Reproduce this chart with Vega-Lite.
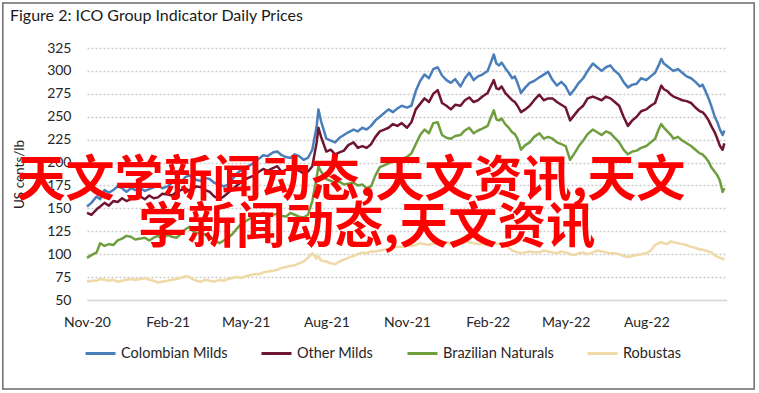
{
  "$schema": "https://vega.github.io/schema/vega-lite/v6.json",
  "width": 640,
  "height": 252,
  "autosize": {"type": "none"},
  "padding": {"left": 87, "top": 48, "right": 32, "bottom": 93},
  "background": "white",
  "config": {
    "font": "Lato",
    "view": {"stroke": null},
    "axis": {"labelFont": "Lato", "titleFont": "Lato", "labelColor": "#262626", "titleColor": "#262626"},
    "axisX": {"grid": false, "ticks": false, "domainColor": "#d9d9d9", "domainWidth": 1.5, "labelFontSize": 14, "labelPadding": 15, "labelFlush": false, "labelOverlap": false, "format": "%b-%y"},
    "axisY": {"grid": true, "gridDash": [2, 2], "gridColor": "#cccccc", "gridWidth": 1.5, "domain": false, "ticks": false, "labelFontSize": 14, "labelPadding": 16, "labelOverlap": false, "titleFontWeight": "normal", "titleFontSize": 13.5, "titlePadding": 20},
    "legend": {"labelFont": "Lato"}
  },
  "title": {
    "text": "Figure 2: ICO Group Indicator Daily Prices",
    "anchor": "start",
    "frame": "group",
    "dx": -77,
    "offset": 0,
    "dy": 22,
    "fontSize": 16,
    "fontWeight": "normal",
    "font": "Lato",
    "color": "#1a1a1a"
  },
  "datasets": {
    "prices": [
      {"date": "2020-11-01", "Colombian Milds": 152, "Other Milds": 145, "Brazilian Naturals": 96, "Robustas": 70},
      {"date": "2020-11-06", "Colombian Milds": 156, "Other Milds": 143, "Brazilian Naturals": 99, "Robustas": 71},
      {"date": "2020-11-12", "Colombian Milds": 163, "Other Milds": 149, "Brazilian Naturals": 102, "Robustas": 71},
      {"date": "2020-11-16", "Colombian Milds": 160, "Other Milds": 152, "Brazilian Naturals": 112, "Robustas": 73},
      {"date": "2020-11-21", "Colombian Milds": 170, "Other Milds": 156, "Brazilian Naturals": 109, "Robustas": 72},
      {"date": "2020-11-26", "Colombian Milds": 167, "Other Milds": 153, "Brazilian Naturals": 111, "Robustas": 71},
      {"date": "2020-12-01", "Colombian Milds": 170, "Other Milds": 158, "Brazilian Naturals": 110, "Robustas": 72},
      {"date": "2020-12-06", "Colombian Milds": 174, "Other Milds": 157, "Brazilian Naturals": 115, "Robustas": 70},
      {"date": "2020-12-11", "Colombian Milds": 172, "Other Milds": 161, "Brazilian Naturals": 117, "Robustas": 71},
      {"date": "2020-12-16", "Colombian Milds": 168, "Other Milds": 158, "Brazilian Naturals": 120, "Robustas": 72},
      {"date": "2020-12-21", "Colombian Milds": 172, "Other Milds": 160, "Brazilian Naturals": 119, "Robustas": 73},
      {"date": "2020-12-26", "Colombian Milds": 170, "Other Milds": 162, "Brazilian Naturals": 116, "Robustas": 72},
      {"date": "2021-01-01", "Colombian Milds": 172, "Other Milds": 163, "Brazilian Naturals": 117, "Robustas": 73},
      {"date": "2021-01-06", "Colombian Milds": 169, "Other Milds": 160, "Brazilian Naturals": 118, "Robustas": 74},
      {"date": "2021-01-11", "Colombian Milds": 171, "Other Milds": 164, "Brazilian Naturals": 115, "Robustas": 72},
      {"date": "2021-01-16", "Colombian Milds": 173, "Other Milds": 161, "Brazilian Naturals": 118, "Robustas": 71},
      {"date": "2021-01-21", "Colombian Milds": 175, "Other Milds": 162, "Brazilian Naturals": 120, "Robustas": 69},
      {"date": "2021-01-26", "Colombian Milds": 172, "Other Milds": 166, "Brazilian Naturals": 117, "Robustas": 70},
      {"date": "2021-02-01", "Colombian Milds": 174, "Other Milds": 165, "Brazilian Naturals": 121, "Robustas": 71},
      {"date": "2021-02-06", "Colombian Milds": 178, "Other Milds": 164, "Brazilian Naturals": 119, "Robustas": 72},
      {"date": "2021-02-11", "Colombian Milds": 180, "Other Milds": 168, "Brazilian Naturals": 118, "Robustas": 73},
      {"date": "2021-02-16", "Colombian Milds": 178, "Other Milds": 170, "Brazilian Naturals": 122, "Robustas": 74},
      {"date": "2021-02-21", "Colombian Milds": 184, "Other Milds": 172, "Brazilian Naturals": 127, "Robustas": 76},
      {"date": "2021-02-26", "Colombian Milds": 186, "Other Milds": 169, "Brazilian Naturals": 130, "Robustas": 75},
      {"date": "2021-03-01", "Colombian Milds": 183, "Other Milds": 171, "Brazilian Naturals": 126, "Robustas": 73},
      {"date": "2021-03-06", "Colombian Milds": 181, "Other Milds": 174, "Brazilian Naturals": 123, "Robustas": 71},
      {"date": "2021-03-11", "Colombian Milds": 180, "Other Milds": 173, "Brazilian Naturals": 124, "Robustas": 70},
      {"date": "2021-03-16", "Colombian Milds": 183, "Other Milds": 170, "Brazilian Naturals": 121, "Robustas": 72},
      {"date": "2021-03-21", "Colombian Milds": 182, "Other Milds": 168, "Brazilian Naturals": 120, "Robustas": 71},
      {"date": "2021-03-26", "Colombian Milds": 178, "Other Milds": 163, "Brazilian Naturals": 115, "Robustas": 70},
      {"date": "2021-04-01", "Colombian Milds": 176, "Other Milds": 160, "Brazilian Naturals": 112, "Robustas": 72},
      {"date": "2021-04-06", "Colombian Milds": 174, "Other Milds": 163, "Brazilian Naturals": 115, "Robustas": 71},
      {"date": "2021-04-11", "Colombian Milds": 176, "Other Milds": 167, "Brazilian Naturals": 118, "Robustas": 73},
      {"date": "2021-04-16", "Colombian Milds": 182, "Other Milds": 171, "Brazilian Naturals": 122, "Robustas": 74},
      {"date": "2021-04-21", "Colombian Milds": 188, "Other Milds": 175, "Brazilian Naturals": 128, "Robustas": 75},
      {"date": "2021-04-26", "Colombian Milds": 192, "Other Milds": 179, "Brazilian Naturals": 133, "Robustas": 74},
      {"date": "2021-05-01", "Colombian Milds": 195, "Other Milds": 182, "Brazilian Naturals": 136, "Robustas": 76},
      {"date": "2021-05-06", "Colombian Milds": 197, "Other Milds": 184, "Brazilian Naturals": 139, "Robustas": 77},
      {"date": "2021-05-11", "Colombian Milds": 200, "Other Milds": 186, "Brazilian Naturals": 141, "Robustas": 78},
      {"date": "2021-05-16", "Colombian Milds": 204, "Other Milds": 190, "Brazilian Naturals": 143, "Robustas": 78},
      {"date": "2021-05-21", "Colombian Milds": 208, "Other Milds": 193, "Brazilian Naturals": 145, "Robustas": 80},
      {"date": "2021-05-26", "Colombian Milds": 207, "Other Milds": 191, "Brazilian Naturals": 144, "Robustas": 81},
      {"date": "2021-06-01", "Colombian Milds": 211, "Other Milds": 194, "Brazilian Naturals": 143, "Robustas": 82},
      {"date": "2021-06-06", "Colombian Milds": 212, "Other Milds": 196, "Brazilian Naturals": 144, "Robustas": 83},
      {"date": "2021-06-11", "Colombian Milds": 208, "Other Milds": 190, "Brazilian Naturals": 142, "Robustas": 85},
      {"date": "2021-06-16", "Colombian Milds": 206, "Other Milds": 192, "Brazilian Naturals": 141, "Robustas": 86},
      {"date": "2021-06-21", "Colombian Milds": 205, "Other Milds": 195, "Brazilian Naturals": 145, "Robustas": 87},
      {"date": "2021-06-26", "Colombian Milds": 209, "Other Milds": 193, "Brazilian Naturals": 143, "Robustas": 88},
      {"date": "2021-07-01", "Colombian Milds": 207, "Other Milds": 191, "Brazilian Naturals": 141, "Robustas": 90},
      {"date": "2021-07-06", "Colombian Milds": 203, "Other Milds": 188, "Brazilian Naturals": 140, "Robustas": 92},
      {"date": "2021-07-11", "Colombian Milds": 205, "Other Milds": 190, "Brazilian Naturals": 143, "Robustas": 96},
      {"date": "2021-07-16", "Colombian Milds": 214, "Other Milds": 196, "Brazilian Naturals": 158, "Robustas": 101},
      {"date": "2021-07-21", "Colombian Milds": 240, "Other Milds": 222, "Brazilian Naturals": 184, "Robustas": 95},
      {"date": "2021-07-23", "Colombian Milds": 258, "Other Milds": 238, "Brazilian Naturals": 196, "Robustas": 98},
      {"date": "2021-07-26", "Colombian Milds": 245, "Other Milds": 228, "Brazilian Naturals": 190, "Robustas": 93},
      {"date": "2021-08-01", "Colombian Milds": 226, "Other Milds": 212, "Brazilian Naturals": 182, "Robustas": 92},
      {"date": "2021-08-06", "Colombian Milds": 224, "Other Milds": 214, "Brazilian Naturals": 180, "Robustas": 90},
      {"date": "2021-08-11", "Colombian Milds": 222, "Other Milds": 209, "Brazilian Naturals": 178, "Robustas": 89},
      {"date": "2021-08-16", "Colombian Milds": 227, "Other Milds": 211, "Brazilian Naturals": 179, "Robustas": 92},
      {"date": "2021-08-21", "Colombian Milds": 230, "Other Milds": 213, "Brazilian Naturals": 176, "Robustas": 94},
      {"date": "2021-08-26", "Colombian Milds": 233, "Other Milds": 219, "Brazilian Naturals": 177, "Robustas": 96},
      {"date": "2021-09-01", "Colombian Milds": 236, "Other Milds": 222, "Brazilian Naturals": 178, "Robustas": 98},
      {"date": "2021-09-06", "Colombian Milds": 234, "Other Milds": 216, "Brazilian Naturals": 175, "Robustas": 100},
      {"date": "2021-09-11", "Colombian Milds": 238, "Other Milds": 218, "Brazilian Naturals": 176, "Robustas": 102},
      {"date": "2021-09-16", "Colombian Milds": 236, "Other Milds": 216, "Brazilian Naturals": 172, "Robustas": 101},
      {"date": "2021-09-21", "Colombian Milds": 240, "Other Milds": 220, "Brazilian Naturals": 174, "Robustas": 103},
      {"date": "2021-09-26", "Colombian Milds": 246, "Other Milds": 228, "Brazilian Naturals": 186, "Robustas": 103},
      {"date": "2021-10-01", "Colombian Milds": 250, "Other Milds": 234, "Brazilian Naturals": 195, "Robustas": 104},
      {"date": "2021-10-06", "Colombian Milds": 254, "Other Milds": 236, "Brazilian Naturals": 197, "Robustas": 105},
      {"date": "2021-10-11", "Colombian Milds": 258, "Other Milds": 238, "Brazilian Naturals": 199, "Robustas": 106},
      {"date": "2021-10-16", "Colombian Milds": 255, "Other Milds": 242, "Brazilian Naturals": 201, "Robustas": 107},
      {"date": "2021-10-21", "Colombian Milds": 259, "Other Milds": 240, "Brazilian Naturals": 202, "Robustas": 108},
      {"date": "2021-10-26", "Colombian Milds": 262, "Other Milds": 243, "Brazilian Naturals": 204, "Robustas": 108},
      {"date": "2021-11-01", "Colombian Milds": 260, "Other Milds": 238, "Brazilian Naturals": 206, "Robustas": 110},
      {"date": "2021-11-06", "Colombian Milds": 262, "Other Milds": 244, "Brazilian Naturals": 210, "Robustas": 109},
      {"date": "2021-11-11", "Colombian Milds": 278, "Other Milds": 258, "Brazilian Naturals": 220, "Robustas": 110},
      {"date": "2021-11-16", "Colombian Milds": 289, "Other Milds": 264, "Brazilian Naturals": 230, "Robustas": 112},
      {"date": "2021-11-21", "Colombian Milds": 296, "Other Milds": 270, "Brazilian Naturals": 236, "Robustas": 111},
      {"date": "2021-11-26", "Colombian Milds": 292, "Other Milds": 266, "Brazilian Naturals": 232, "Robustas": 110},
      {"date": "2021-12-01", "Colombian Milds": 302, "Other Milds": 275, "Brazilian Naturals": 243, "Robustas": 112},
      {"date": "2021-12-06", "Colombian Milds": 304, "Other Milds": 279, "Brazilian Naturals": 244, "Robustas": 111},
      {"date": "2021-12-11", "Colombian Milds": 295, "Other Milds": 265, "Brazilian Naturals": 230, "Robustas": 112},
      {"date": "2021-12-16", "Colombian Milds": 290, "Other Milds": 262, "Brazilian Naturals": 227, "Robustas": 113},
      {"date": "2021-12-21", "Colombian Milds": 287, "Other Milds": 258, "Brazilian Naturals": 226, "Robustas": 111},
      {"date": "2021-12-26", "Colombian Milds": 291, "Other Milds": 263, "Brazilian Naturals": 229, "Robustas": 112},
      {"date": "2022-01-01", "Colombian Milds": 283, "Other Milds": 262, "Brazilian Naturals": 230, "Robustas": 112},
      {"date": "2022-01-06", "Colombian Milds": 292, "Other Milds": 268, "Brazilian Naturals": 235, "Robustas": 114},
      {"date": "2022-01-11", "Colombian Milds": 298, "Other Milds": 271, "Brazilian Naturals": 238, "Robustas": 113},
      {"date": "2022-01-16", "Colombian Milds": 290, "Other Milds": 266, "Brazilian Naturals": 232, "Robustas": 112},
      {"date": "2022-01-21", "Colombian Milds": 294, "Other Milds": 268, "Brazilian Naturals": 235, "Robustas": 111},
      {"date": "2022-01-26", "Colombian Milds": 296, "Other Milds": 272, "Brazilian Naturals": 237, "Robustas": 111},
      {"date": "2022-02-01", "Colombian Milds": 300, "Other Milds": 276, "Brazilian Naturals": 240, "Robustas": 110},
      {"date": "2022-02-05", "Colombian Milds": 310, "Other Milds": 284, "Brazilian Naturals": 250, "Robustas": 112},
      {"date": "2022-02-08", "Colombian Milds": 318, "Other Milds": 290, "Brazilian Naturals": 257, "Robustas": 112},
      {"date": "2022-02-11", "Colombian Milds": 308, "Other Milds": 281, "Brazilian Naturals": 247, "Robustas": 111},
      {"date": "2022-02-14", "Colombian Milds": 306, "Other Milds": 280, "Brazilian Naturals": 246, "Robustas": 111},
      {"date": "2022-02-17", "Colombian Milds": 309, "Other Milds": 283, "Brazilian Naturals": 248, "Robustas": 112},
      {"date": "2022-02-21", "Colombian Milds": 303, "Other Milds": 276, "Brazilian Naturals": 242, "Robustas": 110},
      {"date": "2022-02-25", "Colombian Milds": 298, "Other Milds": 272, "Brazilian Naturals": 238, "Robustas": 107},
      {"date": "2022-03-01", "Colombian Milds": 292, "Other Milds": 268, "Brazilian Naturals": 233, "Robustas": 104},
      {"date": "2022-03-04", "Colombian Milds": 294, "Other Milds": 266, "Brazilian Naturals": 231, "Robustas": 103},
      {"date": "2022-03-07", "Colombian Milds": 287, "Other Milds": 262, "Brazilian Naturals": 226, "Robustas": 102},
      {"date": "2022-03-11", "Colombian Milds": 276, "Other Milds": 255, "Brazilian Naturals": 214, "Robustas": 101},
      {"date": "2022-03-16", "Colombian Milds": 282, "Other Milds": 258, "Brazilian Naturals": 219, "Robustas": 102},
      {"date": "2022-03-21", "Colombian Milds": 287, "Other Milds": 262, "Brazilian Naturals": 222, "Robustas": 103},
      {"date": "2022-03-26", "Colombian Milds": 289, "Other Milds": 268, "Brazilian Naturals": 228, "Robustas": 102},
      {"date": "2022-04-01", "Colombian Milds": 293, "Other Milds": 274, "Brazilian Naturals": 232, "Robustas": 102},
      {"date": "2022-04-06", "Colombian Milds": 296, "Other Milds": 268, "Brazilian Naturals": 226, "Robustas": 104},
      {"date": "2022-04-11", "Colombian Milds": 299, "Other Milds": 270, "Brazilian Naturals": 228, "Robustas": 103},
      {"date": "2022-04-16", "Colombian Milds": 290, "Other Milds": 270, "Brazilian Naturals": 226, "Robustas": 102},
      {"date": "2022-04-21", "Colombian Milds": 284, "Other Milds": 266, "Brazilian Naturals": 222, "Robustas": 101},
      {"date": "2022-04-26", "Colombian Milds": 288, "Other Milds": 263, "Brazilian Naturals": 220, "Robustas": 103},
      {"date": "2022-05-01", "Colombian Milds": 283, "Other Milds": 260, "Brazilian Naturals": 218, "Robustas": 102},
      {"date": "2022-05-06", "Colombian Milds": 274, "Other Milds": 246, "Brazilian Naturals": 203, "Robustas": 100},
      {"date": "2022-05-11", "Colombian Milds": 280, "Other Milds": 252, "Brazilian Naturals": 210, "Robustas": 99},
      {"date": "2022-05-16", "Colombian Milds": 287, "Other Milds": 258, "Brazilian Naturals": 218, "Robustas": 101},
      {"date": "2022-05-21", "Colombian Milds": 292, "Other Milds": 262, "Brazilian Naturals": 224, "Robustas": 102},
      {"date": "2022-05-26", "Colombian Milds": 300, "Other Milds": 270, "Brazilian Naturals": 231, "Robustas": 100},
      {"date": "2022-06-01", "Colombian Milds": 308, "Other Milds": 272, "Brazilian Naturals": 236, "Robustas": 102},
      {"date": "2022-06-06", "Colombian Milds": 304, "Other Milds": 270, "Brazilian Naturals": 233, "Robustas": 104},
      {"date": "2022-06-11", "Colombian Milds": 300, "Other Milds": 268, "Brazilian Naturals": 230, "Robustas": 103},
      {"date": "2022-06-16", "Colombian Milds": 304, "Other Milds": 272, "Brazilian Naturals": 234, "Robustas": 102},
      {"date": "2022-06-21", "Colombian Milds": 306, "Other Milds": 270, "Brazilian Naturals": 232, "Robustas": 101},
      {"date": "2022-06-26", "Colombian Milds": 300, "Other Milds": 266, "Brazilian Naturals": 227, "Robustas": 101},
      {"date": "2022-07-01", "Colombian Milds": 296, "Other Milds": 262, "Brazilian Naturals": 222, "Robustas": 100},
      {"date": "2022-07-06", "Colombian Milds": 288, "Other Milds": 250, "Brazilian Naturals": 214, "Robustas": 98},
      {"date": "2022-07-11", "Colombian Milds": 282, "Other Milds": 240, "Brazilian Naturals": 209, "Robustas": 97},
      {"date": "2022-07-16", "Colombian Milds": 285, "Other Milds": 246, "Brazilian Naturals": 212, "Robustas": 98},
      {"date": "2022-07-21", "Colombian Milds": 286, "Other Milds": 250, "Brazilian Naturals": 213, "Robustas": 99},
      {"date": "2022-07-26", "Colombian Milds": 292, "Other Milds": 256, "Brazilian Naturals": 216, "Robustas": 100},
      {"date": "2022-08-01", "Colombian Milds": 290, "Other Milds": 258, "Brazilian Naturals": 218, "Robustas": 101},
      {"date": "2022-08-06", "Colombian Milds": 294, "Other Milds": 262, "Brazilian Naturals": 222, "Robustas": 104},
      {"date": "2022-08-11", "Colombian Milds": 298, "Other Milds": 265, "Brazilian Naturals": 226, "Robustas": 110},
      {"date": "2022-08-15", "Colombian Milds": 306, "Other Milds": 276, "Brazilian Naturals": 236, "Robustas": 112},
      {"date": "2022-08-18", "Colombian Milds": 313, "Other Milds": 284, "Brazilian Naturals": 242, "Robustas": 113},
      {"date": "2022-08-21", "Colombian Milds": 308, "Other Milds": 280, "Brazilian Naturals": 238, "Robustas": 112},
      {"date": "2022-08-25", "Colombian Milds": 305, "Other Milds": 278, "Brazilian Naturals": 234, "Robustas": 111},
      {"date": "2022-08-29", "Colombian Milds": 302, "Other Milds": 274, "Brazilian Naturals": 230, "Robustas": 114},
      {"date": "2022-09-01", "Colombian Milds": 300, "Other Milds": 272, "Brazilian Naturals": 226, "Robustas": 113},
      {"date": "2022-09-06", "Colombian Milds": 302, "Other Milds": 270, "Brazilian Naturals": 228, "Robustas": 112},
      {"date": "2022-09-11", "Colombian Milds": 298, "Other Milds": 268, "Brazilian Naturals": 224, "Robustas": 111},
      {"date": "2022-09-16", "Colombian Milds": 294, "Other Milds": 267, "Brazilian Naturals": 221, "Robustas": 110},
      {"date": "2022-09-21", "Colombian Milds": 292, "Other Milds": 265, "Brazilian Naturals": 218, "Robustas": 108},
      {"date": "2022-09-26", "Colombian Milds": 288, "Other Milds": 260, "Brazilian Naturals": 214, "Robustas": 107},
      {"date": "2022-10-01", "Colombian Milds": 283, "Other Milds": 256, "Brazilian Naturals": 210, "Robustas": 105},
      {"date": "2022-10-04", "Colombian Milds": 285, "Other Milds": 255, "Brazilian Naturals": 209, "Robustas": 105},
      {"date": "2022-10-07", "Colombian Milds": 279, "Other Milds": 252, "Brazilian Naturals": 206, "Robustas": 104},
      {"date": "2022-10-11", "Colombian Milds": 270, "Other Milds": 246, "Brazilian Naturals": 201, "Robustas": 103},
      {"date": "2022-10-14", "Colombian Milds": 262, "Other Milds": 240, "Brazilian Naturals": 195, "Robustas": 102},
      {"date": "2022-10-18", "Colombian Milds": 250, "Other Milds": 233, "Brazilian Naturals": 190, "Robustas": 99},
      {"date": "2022-10-21", "Colombian Milds": 244, "Other Milds": 226, "Brazilian Naturals": 186, "Robustas": 97},
      {"date": "2022-10-24", "Colombian Milds": 236, "Other Milds": 218, "Brazilian Naturals": 180, "Robustas": 96},
      {"date": "2022-10-27", "Colombian Milds": 230, "Other Milds": 214, "Brazilian Naturals": 168, "Robustas": 95},
      {"date": "2022-10-29", "Colombian Milds": 235, "Other Milds": 221, "Brazilian Naturals": 172, "Robustas": 94}
    ]
  },
  "layer": [
    {
      "data": {"name": "prices"},
      "transform": [
        {"fold": ["Colombian Milds", "Other Milds", "Brazilian Naturals", "Robustas"], "as": ["series", "price"]}
      ],
      "mark": {"type": "line", "strokeWidth": 2.5, "strokeJoin": "round"},
      "encoding": {
        "x": {
          "field": "date",
          "type": "temporal",
          "scale": {"type": "utc", "domain": [{"year": 2020, "month": 11, "date": 1, "utc": true}, {"year": 2022, "month": 11, "date": 1, "utc": true}], "nice": false},
          "axis": {"title": null, "values": [{"year": 2020, "month": 11, "date": 1, "utc": true}, {"year": 2021, "month": 2, "date": 1, "utc": true}, {"year": 2021, "month": 5, "date": 1, "utc": true}, {"year": 2021, "month": 8, "date": 1, "utc": true}, {"year": 2021, "month": 11, "date": 1, "utc": true}, {"year": 2022, "month": 2, "date": 1, "utc": true}, {"year": 2022, "month": 5, "date": 1, "utc": true}, {"year": 2022, "month": 8, "date": 1, "utc": true}]}
        },
        "y": {
          "field": "price",
          "type": "quantitative",
          "scale": {"domain": [50, 325], "nice": false, "zero": false},
          "axis": {"title": "US cents/lb", "values": [50, 75, 100, 125, 150, 175, 200, 225, 250, 275, 300, 325]}
        },
        "color": {
          "field": "series",
          "type": "nominal",
          "scale": {
            "domain": ["Colombian Milds", "Other Milds", "Brazilian Naturals", "Robustas"],
            "range": ["#4a7ebb", "#6e1530", "#6e9e3e", "#efd9a6"]
          },
          "legend": {
            "title": null,
            "orient": "none",
            "legendX": -3,
            "legendY": 289,
            "direction": "horizontal",
            "symbolType": "stroke",
            "symbolStrokeWidth": 3,
            "symbolSize": 900,
            "labelFontSize": 14.5,
            "labelColor": "#262626",
            "labelOffset": 4,
            "columnPadding": 27
          }
        }
      }
    },
    {
      "data": {"values": [{}]},
      "mark": {"type": "text", "font": "Noto Sans CJK SC", "fontWeight": "bold", "fontSize": 49, "fill": "#ff0000", "align": "center", "baseline": "middle"},
      "encoding": {
        "x": {"datum": {"year": 2021, "month": 8, "date": 29, "utc": true}, "type": "temporal", "axis": {"title": null, "values": [{"year": 2020, "month": 11, "date": 1, "utc": true}, {"year": 2021, "month": 2, "date": 1, "utc": true}, {"year": 2021, "month": 5, "date": 1, "utc": true}, {"year": 2021, "month": 8, "date": 1, "utc": true}, {"year": 2021, "month": 11, "date": 1, "utc": true}, {"year": 2022, "month": 2, "date": 1, "utc": true}, {"year": 2022, "month": 5, "date": 1, "utc": true}, {"year": 2022, "month": 8, "date": 1, "utc": true}]}},
        "y": {"datum": 180, "type": "quantitative", "axis": {"title": "US cents/lb", "values": [50, 75, 100, 125, 150, 175, 200, 225, 250, 275, 300, 325]}},
        "text": {"value": "天文学新闻动态,天文资讯,天文"}
      }
    },
    {
      "data": {"values": [{}]},
      "mark": {"type": "text", "font": "Noto Sans CJK SC", "fontWeight": "bold", "fontSize": 49, "fill": "#ff0000", "align": "center", "baseline": "middle"},
      "encoding": {
        "x": {"datum": {"year": 2021, "month": 9, "date": 16, "utc": true}, "type": "temporal", "axis": {"title": null, "values": [{"year": 2020, "month": 11, "date": 1, "utc": true}, {"year": 2021, "month": 2, "date": 1, "utc": true}, {"year": 2021, "month": 5, "date": 1, "utc": true}, {"year": 2021, "month": 8, "date": 1, "utc": true}, {"year": 2021, "month": 11, "date": 1, "utc": true}, {"year": 2022, "month": 2, "date": 1, "utc": true}, {"year": 2022, "month": 5, "date": 1, "utc": true}, {"year": 2022, "month": 8, "date": 1, "utc": true}]}},
        "y": {"datum": 128.5, "type": "quantitative", "axis": {"title": "US cents/lb", "values": [50, 75, 100, 125, 150, 175, 200, 225, 250, 275, 300, 325]}},
        "text": {"value": "学新闻动态,天文资讯"}
      }
    },
    {
      "data": {"values": [{}]},
      "mark": {"type": "rect", "fill": null, "stroke": "#6b6b6b", "strokeWidth": 1.5},
      "encoding": {
        "x": {"datum": {"year": 2020, "month": 7, "date": 28, "utc": true}, "type": "temporal", "axis": {"title": null, "values": [{"year": 2020, "month": 11, "date": 1, "utc": true}, {"year": 2021, "month": 2, "date": 1, "utc": true}, {"year": 2021, "month": 5, "date": 1, "utc": true}, {"year": 2021, "month": 8, "date": 1, "utc": true}, {"year": 2021, "month": 11, "date": 1, "utc": true}, {"year": 2022, "month": 2, "date": 1, "utc": true}, {"year": 2022, "month": 5, "date": 1, "utc": true}, {"year": 2022, "month": 8, "date": 1, "utc": true}]}},
        "x2": {"datum": {"year": 2022, "month": 12, "date": 2, "utc": true}},
        "y": {"datum": 374, "type": "quantitative", "axis": {"title": "US cents/lb", "values": [50, 75, 100, 125, 150, 175, 200, 225, 250, 275, 300, 325]}},
        "y2": {"datum": -47}
      }
    }
  ]
}
